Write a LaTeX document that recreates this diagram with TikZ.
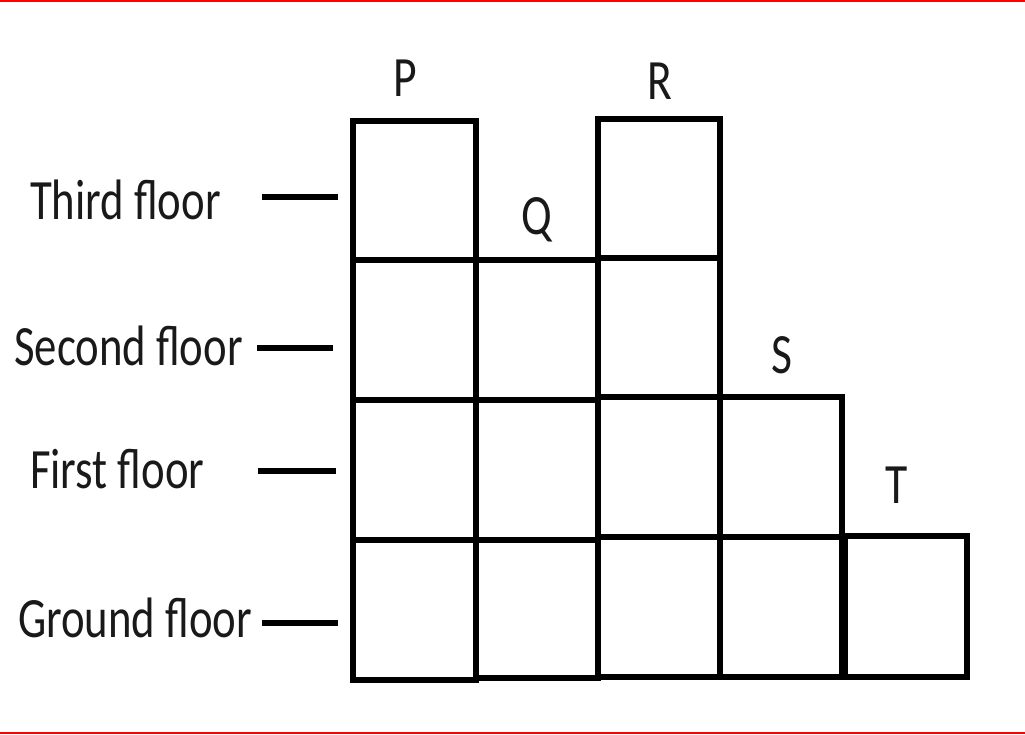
\documentclass[tikz,border=0pt]{standalone}
\usepackage{fontspec}
\setmainfont{Carlito}
\usepackage{graphicx}
\begin{document}
\begin{tikzpicture}[x=1pt,y=-1pt,
  cell/.style={line width=5.5pt,line join=miter},
  tick/.style={line width=6pt},
  redrule/.style={draw=red},
  floorlbl/.style={anchor=base west,inner sep=0pt,text=black!90,font=\fontsize{57}{60}\selectfont},
  colname/.style={anchor=base,inner sep=0pt,text=black!90,font=\fontsize{57}{60}\selectfont}]
\useasboundingbox (0,0) rectangle (1025,735);
% red frame lines
\draw[redrule,line width=2.5pt] (0,1) -- (1025,1);
\draw[redrule,line width=1.5pt] (0,733) -- (1025,733);
% column P
\draw[cell] (353,121) rectangle (476,260);
\draw[cell] (353,260) rectangle (476,400);
\draw[cell] (353,400) rectangle (476,540);
\draw[cell] (353,540) rectangle (476,680);
% column Q
\draw[cell] (476,260) rectangle (598,400);
\draw[cell] (476,400) rectangle (598,540);
\draw[cell] (476,540) rectangle (598,678);
% column R
\draw[cell] (598,119) rectangle (720,258);
\draw[cell] (598,258) rectangle (720,397);
\draw[cell] (598,397) rectangle (720,537);
\draw[cell] (598,537) rectangle (720,677);
% column S
\draw[cell] (720,397) rectangle (842,537);
\draw[cell] (720,537) rectangle (842,677);
% column T
\draw[cell] (845,536) rectangle (967,677);
% column labels
\node[colname] (P) at (405,97) {\scalebox{0.8}[1]{P}};
\node[colname] (Q) at (537,235) {\scalebox{0.8}[1]{Q}};
\node[colname] (R) at (660,100) {\scalebox{0.8}[1]{R}};
\node[colname] (S) at (782,373) {\scalebox{0.8}[1]{S}};
\node[colname] (T) at (897,503) {\scalebox{0.8}[1]{T}};
% floor labels
\node[floorlbl] (third) at (30,220) {\scalebox{0.785}[1]{Third floor}};
\node[floorlbl] (second) at (14,365) {\scalebox{0.785}[1]{Second floor}};
\node[floorlbl] (first) at (30,488) {\scalebox{0.785}[1]{First floor}};
\node[floorlbl] (ground) at (18,637) {\scalebox{0.785}[1]{Ground floor}};
% ticks
\coordinate (t3a) at (262,197); \coordinate (t3b) at (338,197);
\coordinate (t2a) at (257,348); \coordinate (t2b) at (333,348);
\coordinate (t1a) at (258,471); \coordinate (t1b) at (336,471);
\coordinate (t0a) at (262,623); \coordinate (t0b) at (338,623);
\draw[tick] (t3a) -- (t3b);
\draw[tick] (t2a) -- (t2b);
\draw[tick] (t1a) -- (t1b);
\draw[tick] (t0a) -- (t0b);
\end{tikzpicture}
\end{document}
